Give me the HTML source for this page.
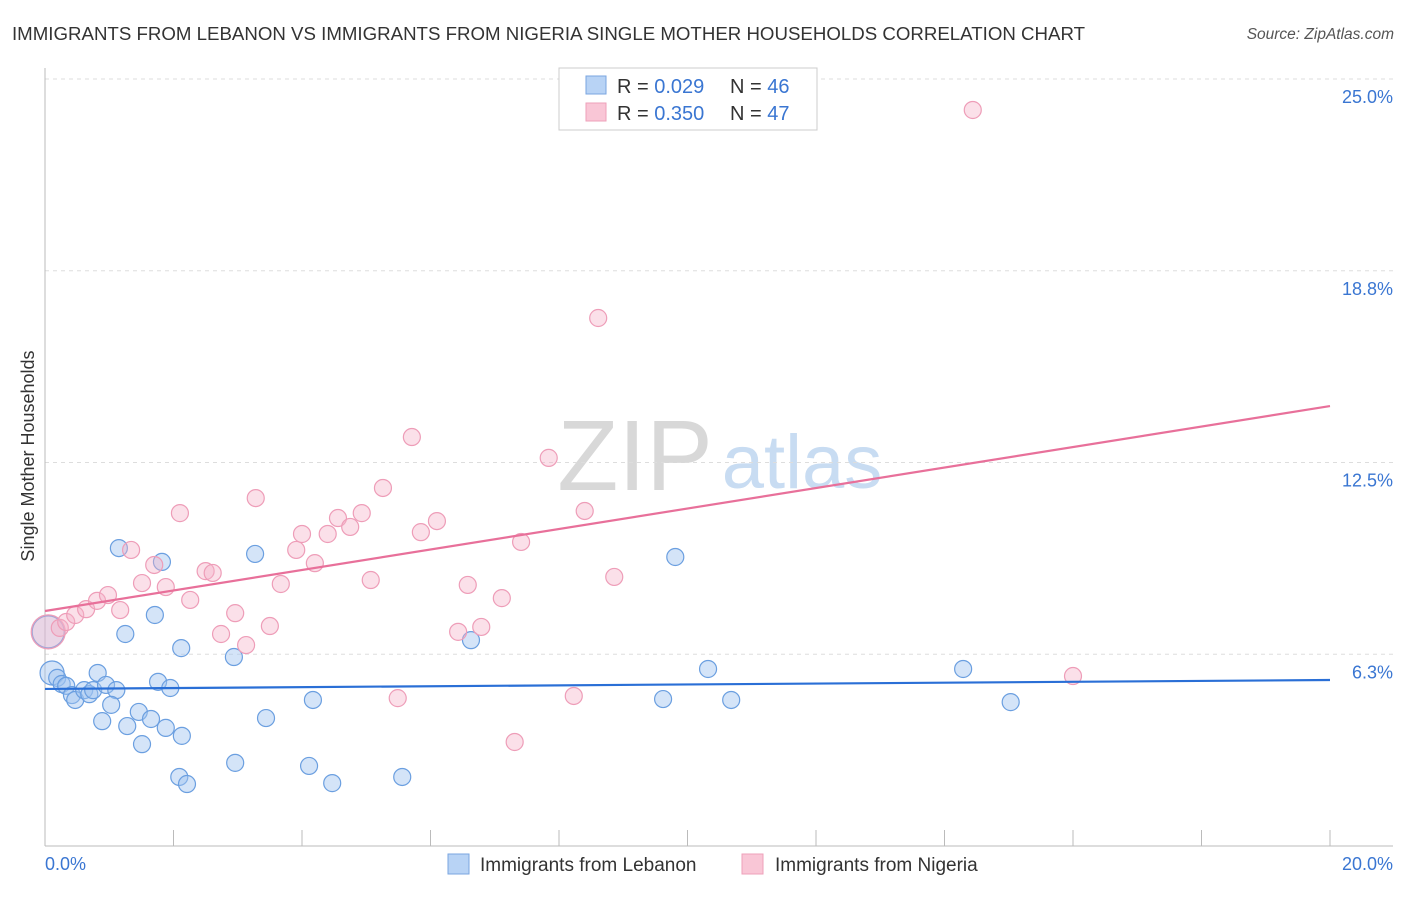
<!DOCTYPE html>
<html><head><meta charset="utf-8"><style>
body{margin:0;background:#fff;font-family:"Liberation Sans",sans-serif}
svg text{font-family:"Liberation Sans",sans-serif}
</style></head><body>
<svg id="chart" width="1406" height="892" viewBox="0 0 1406 892" xmlns="http://www.w3.org/2000/svg">
<text x="12" y="40" font-size="18.6" fill="#333" textLength="1073" lengthAdjust="spacingAndGlyphs">IMMIGRANTS FROM LEBANON VS IMMIGRANTS FROM NIGERIA SINGLE MOTHER HOUSEHOLDS CORRELATION CHART</text>
<text x="1394" y="39" font-size="15.5" fill="#555" font-style="italic" text-anchor="end">Source: ZipAtlas.com</text>
<g>
<text x="635" y="490" font-size="100" fill="#d8d8d8" font-family="Liberation Serif" text-anchor="middle">ZIP</text>
<text x="802" y="488" font-size="76" fill="#c8dcf2" text-anchor="middle">atlas</text>
</g>
<g id="grid"></g>
<g id="axes"></g>
<g id="marks"></g>
<text transform="translate(34,456) rotate(-90)" font-size="18" fill="#333" text-anchor="middle">Single Mother Households</text>
<g>
<rect x="559" y="68" width="258" height="62" fill="#fff" stroke="#ccc"/>
<rect x="586" y="76" width="20" height="18" fill="#b8d3f5" stroke="#7aa6e0"/>
<rect x="586" y="103" width="20" height="18" fill="#f9c6d6" stroke="#eea0ba"/>
<text x="617" y="93" font-size="20" fill="#333">R = <tspan fill="#3a76d2">0.029</tspan></text>
<text x="730" y="93" font-size="20" fill="#333">N = <tspan fill="#3a76d2">46</tspan></text>
<text x="617" y="120" font-size="20" fill="#333">R = <tspan fill="#3a76d2">0.350</tspan></text>
<text x="730" y="120" font-size="20" fill="#333">N = <tspan fill="#3a76d2">47</tspan></text>
</g>
<g>
<rect x="448" y="854" width="21" height="20" fill="#b8d3f5" stroke="#7aa6e0"/>
<text x="480" y="871" font-size="19" fill="#333">Immigrants from Lebanon</text>
<rect x="742" y="854" width="21" height="20" fill="#f9c6d6" stroke="#eea0ba"/>
<text x="775" y="871" font-size="19" fill="#333">Immigrants from Nigeria</text>
</g>
</svg>
<script>
const yTickValues=[6.25,12.5,18.75,25];
const yTickLabels=["6.3%","12.5%","18.8%","25.0%"];
const xTickValues=[0,2,4,6,8,10,12,14,16,18,20];
const lebanonX=[0.11,0.19,0.26,0.33,0.42,0.47,0.61,0.69,0.75,0.82,0.95,1.11,0.89,1.03,1.15,1.25,1.28,1.46,1.51,1.65,1.71,1.76,1.82,1.88,1.95,2.09,2.12,2.13,2.21,2.94,2.96,3.27,3.44,4.11,4.17,4.47,5.56,6.63,9.62,9.81,10.32,10.68,14.29,15.03,0.05];
const lebanonY=[5.64,5.48,5.28,5.22,4.92,4.76,5.08,4.95,5.08,5.64,5.25,5.08,4.07,4.60,9.71,6.91,3.91,4.37,3.32,4.14,7.53,5.35,9.26,3.85,5.15,2.25,6.45,3.59,2.02,6.16,2.71,9.52,4.17,2.61,4.76,2.05,2.25,6.71,4.79,9.42,5.77,4.76,5.77,4.69,6.98];
const nigeriaX=[0.05,0.23,0.33,0.47,0.64,0.81,0.98,1.17,1.34,1.51,1.70,1.88,2.10,2.26,2.50,2.61,2.74,2.96,3.13,3.28,3.50,3.67,3.91,4.00,4.20,4.40,4.56,4.75,4.93,5.07,5.26,5.49,5.71,5.85,6.10,6.43,6.58,6.79,7.11,7.31,7.41,7.84,8.23,8.40,8.61,8.86,14.44,16.00];
const nigeriaY=[6.98,7.11,7.30,7.53,7.72,7.99,8.18,7.69,9.65,8.57,9.16,8.44,10.85,8.02,8.96,8.90,6.91,7.59,6.55,11.34,7.17,8.54,9.65,10.17,9.22,10.17,10.69,10.40,10.85,8.67,11.67,4.82,13.33,10.23,10.59,6.98,8.51,7.14,8.08,3.39,9.91,12.65,4.89,10.92,17.21,8.77,23.99,5.54];
const lebanonTrend=[5.12,5.41];
const nigeriaTrend=[7.66,14.34];
const NS="http://www.w3.org/2000/svg";
function xs(v){return 45+v/20*1285;}
function ys(v){return 846-v/25*767;}
function mk(tag,attrs,parent){const e=document.createElementNS(NS,tag);for(const k in attrs)e.setAttribute(k,attrs[k]);document.getElementById(parent).appendChild(e);return e;}
yTickValues.forEach((v,i)=>{
 const l=mk('line',{x1:45,x2:1393,y1:ys(v),y2:ys(v),stroke:'#ddd','stroke-dasharray':'4,4'},'grid');
 
 
 const t=mk('text',{x:1393,y:ys(v)+24,'font-size':18,fill:'#3a76d2','text-anchor':'end'},'grid');
 t.textContent=yTickLabels[i];
 
 
});
let a=mk('line',{x1:45,x2:45,y1:68,y2:846,stroke:'#bbb'},'axes');


a=mk('line',{x1:45,x2:1393,y1:846,y2:846,stroke:'#bbb'},'axes');


xTickValues.forEach(v=>{
 const l=mk('line',{x1:xs(v),x2:xs(v),y1:830,y2:846,stroke:'#bbb'},'axes');
 
 
});
let t=mk('text',{x:45,y:870,'font-size':18,fill:'#3a76d2'},'axes');t.textContent='0.0%';


t=mk('text',{x:1393,y:870,'font-size':18,fill:'#3a76d2','text-anchor':'end'},'axes');t.textContent='20.0%';


lebanonX.forEach((x,i)=>{
 const big=i===0?12:(i===lebanonX.length-1?16:8.5);
 const c=mk('circle',{cx:xs(x),cy:ys(lebanonY[i]),r:big,fill:i===lebanonX.length-1?'rgba(160,196,240,0.3)':'rgba(160,196,240,0.45)',stroke:'#6b9fe0','stroke-width':1.2},'marks');
 
 
});
nigeriaX.forEach((x,i)=>{
 const c=mk('circle',{cx:xs(x),cy:ys(nigeriaY[i]),r:i===0?17:8.5,fill:'rgba(246,178,200,0.4)',stroke:'#ee9db8','stroke-width':1.2},'marks');
 
 
});
let tl=mk('line',{x1:xs(0),x2:xs(20),y1:ys(lebanonTrend[0]),y2:ys(lebanonTrend[1]),stroke:'#2a6fd6','stroke-width':2.2},'marks');


tl=mk('line',{x1:xs(0),x2:xs(20),y1:ys(nigeriaTrend[0]),y2:ys(nigeriaTrend[1]),stroke:'#e8709a','stroke-width':2.2},'marks');


</script>
</body></html>
